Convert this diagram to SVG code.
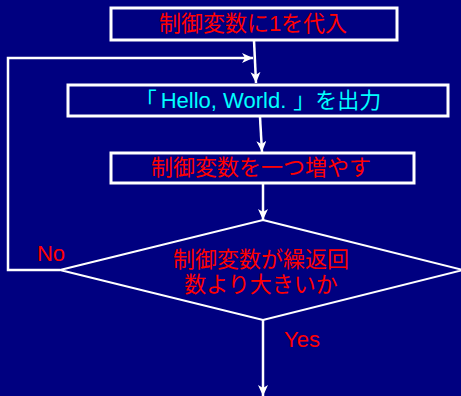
<svg xmlns="http://www.w3.org/2000/svg" width="461" height="396" viewBox="0 0 461 396">
<style>
.box{fill:none;stroke:#fff;stroke-width:3}
.dia{fill:none;stroke:#fff;stroke-width:2}
.con{fill:none;stroke:#fff;stroke-width:2.5}
text{font-family:"Liberation Sans","Noto Sans CJK JP",sans-serif;font-size:22px;text-anchor:middle}
.red{fill:#ff0000}
.cyan{fill:#00ffff}
</style>
<defs>
<marker id="ah" markerUnits="userSpaceOnUse" markerWidth="12" markerHeight="10" refX="11" refY="5" orient="auto">
<path d="M0,0 L11,5 L0,10 L3,5 z" fill="#fff"/>
</marker>
</defs>
<rect width="461" height="396" fill="#000080"/>
<g id="connectors">
<line class="con" x1="254" y1="40" x2="256" y2="83" marker-end="url(#ah)"/>
<polyline class="con" points="60,270 8,270 8,58 253,58" marker-end="url(#ah)"/>
<line class="con" x1="260" y1="117" x2="262" y2="152" marker-end="url(#ah)"/>
<line class="con" x1="263" y1="184" x2="263" y2="220" marker-end="url(#ah)"/>
<line class="con" x1="263" y1="320" x2="263" y2="396" marker-end="url(#ah)"/>
</g>
<g id="n1">
<rect class="box" x="111" y="8" width="286" height="32"/>
<text class="red" x="253" y="31">制御変数に1を代入</text>
</g>
<g id="n2">
<rect class="box" x="68" y="85" width="380" height="31"/>
<text class="cyan" x="258" y="108">「<tspan dx="4">Hello, World.</tspan><tspan dx="7">」</tspan>を出力</text>
</g>
<g id="n3">
<rect class="box" x="111" y="153" width="303" height="30"/>
<text class="red" x="261" y="175">制御変数を一つ増やす</text>
</g>
<g id="n4">
<polygon class="dia" points="263,220 463,270 263,320 60,270"/>
<text class="red" x="261" y="267">制御変数が繰返回</text>
<text class="red" x="261" y="292">数より大きいか</text>
</g>
<g id="labels">
<text class="red" x="51" y="261">No</text>
<text class="red" x="302" y="347">Yes</text>
</g>
</svg>
